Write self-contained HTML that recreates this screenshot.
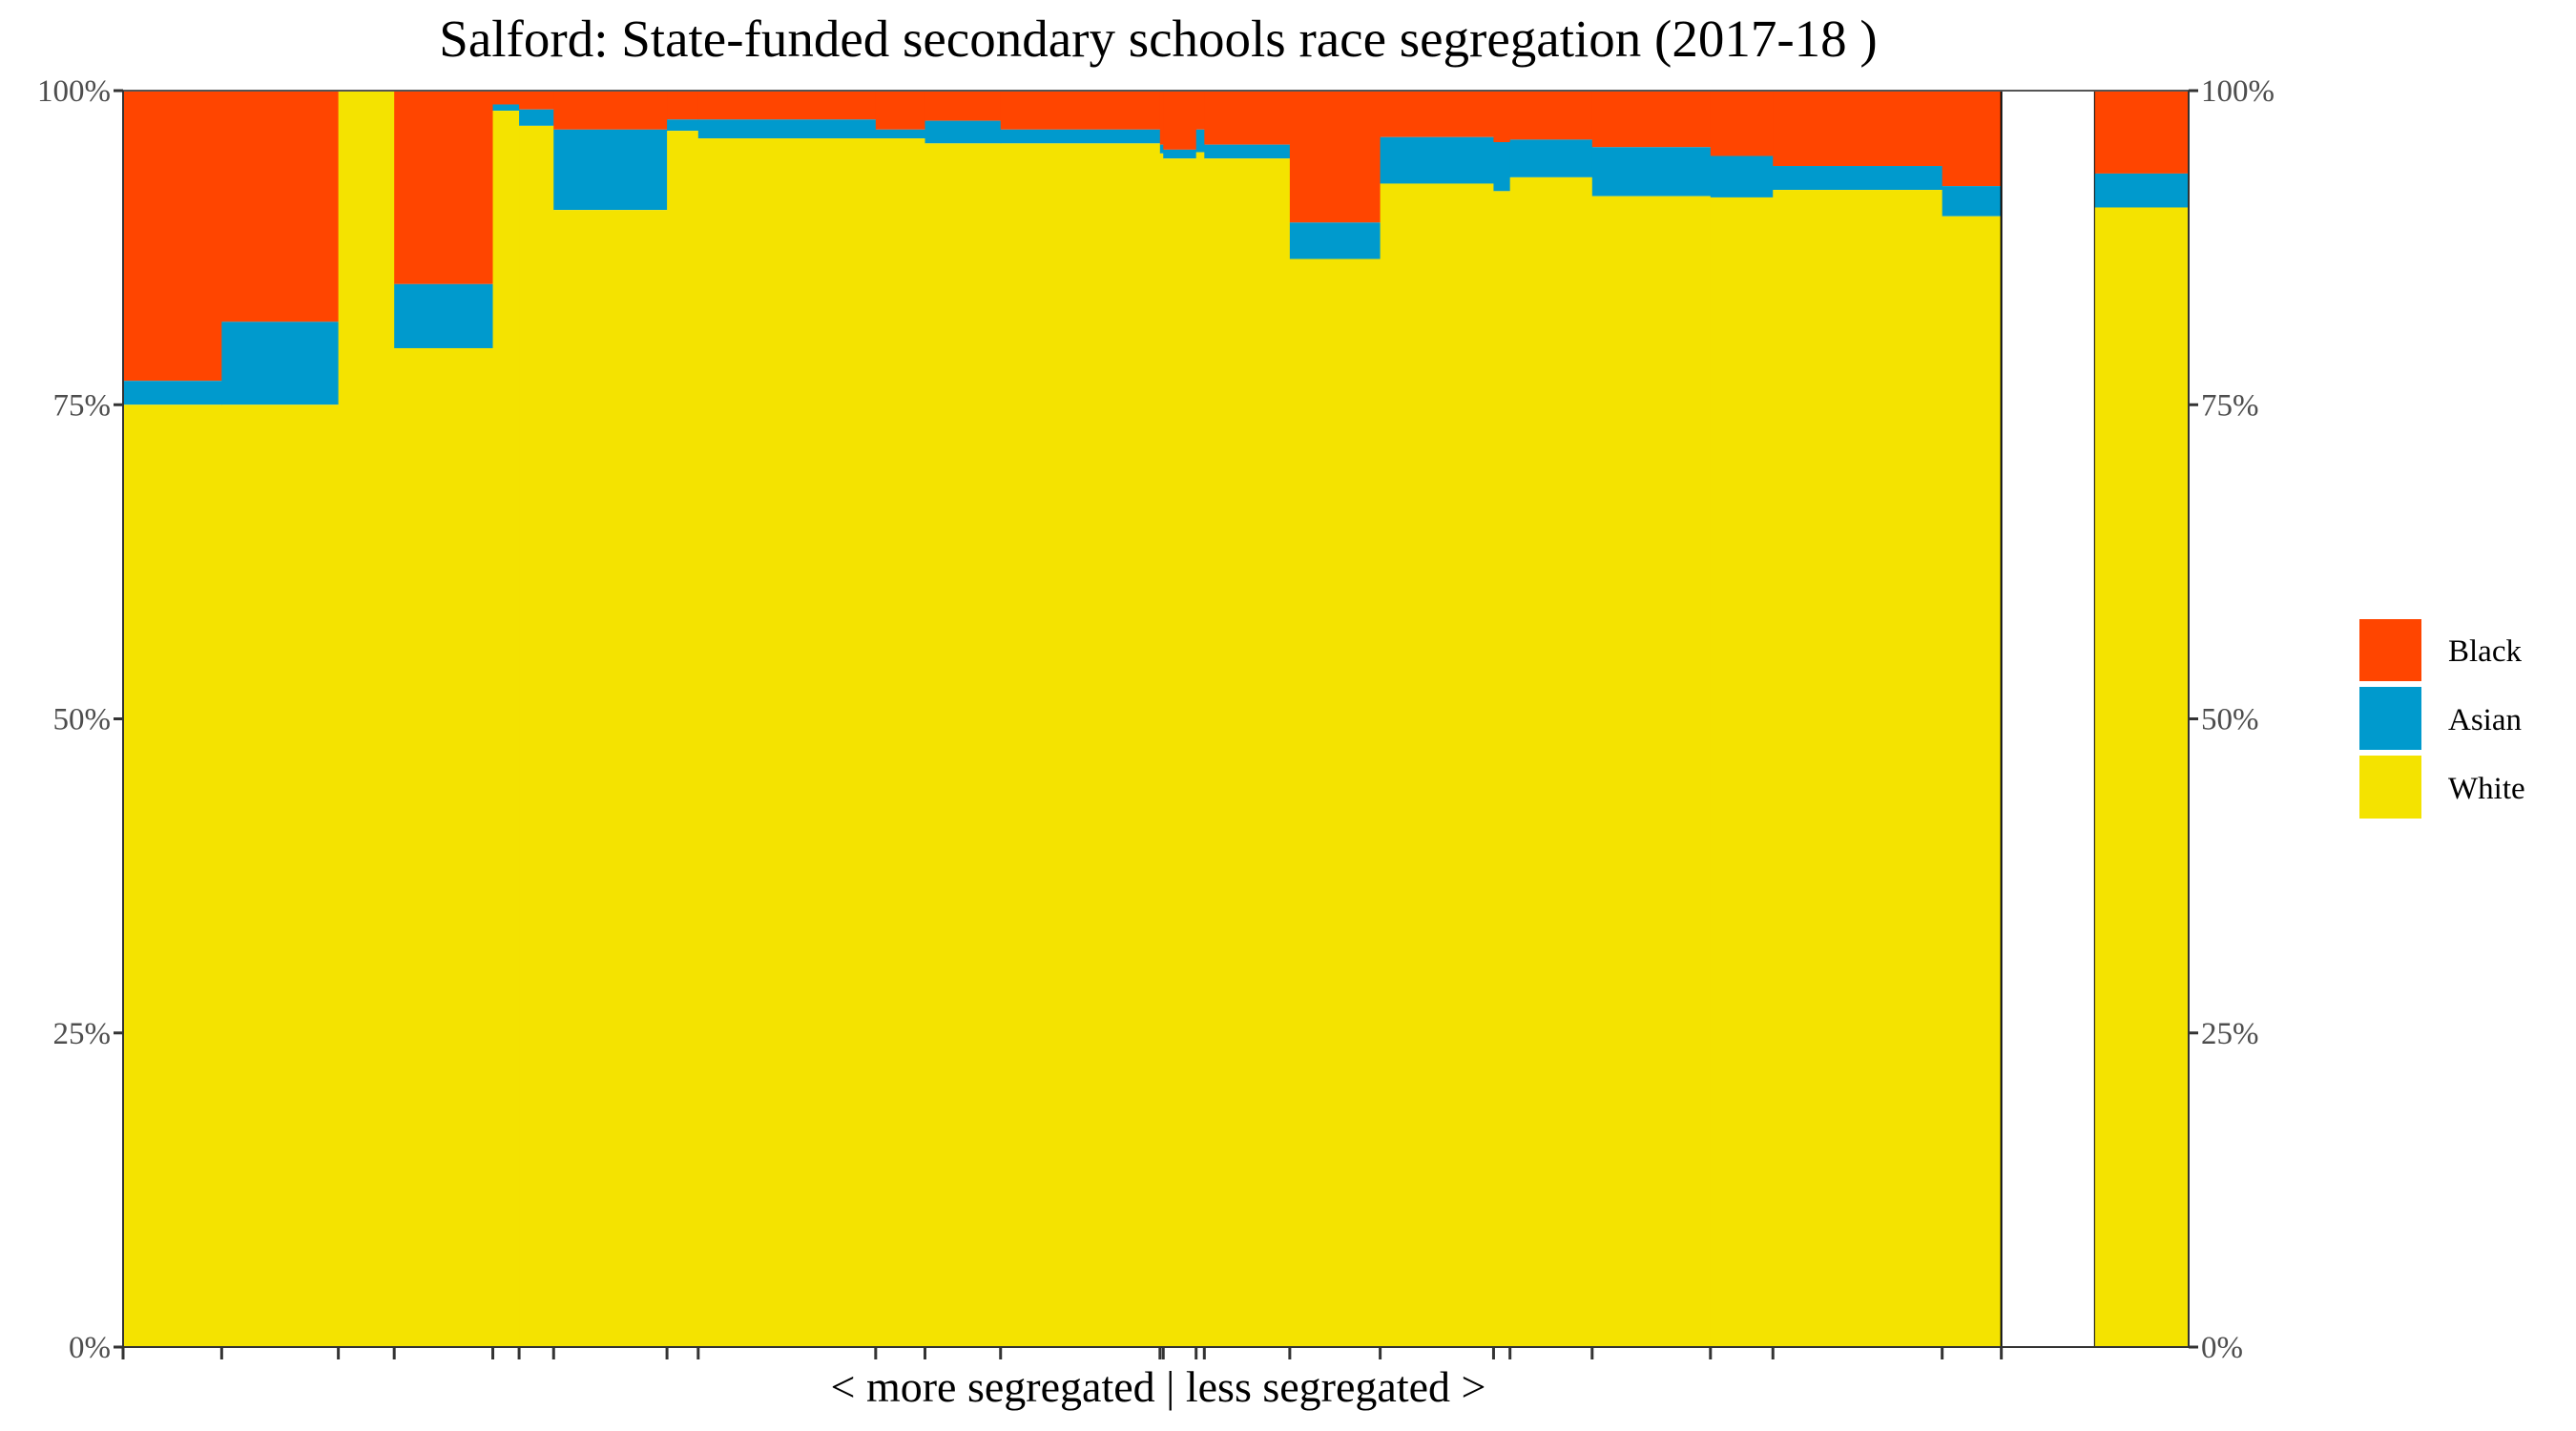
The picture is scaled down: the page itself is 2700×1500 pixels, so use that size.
<!DOCTYPE html>
<html><head><meta charset="utf-8"><style>
html,body{margin:0;padding:0;background:#fff;width:2700px;height:1500px;overflow:hidden}
svg{display:block}
text{font-family:"Liberation Serif",serif}
</style></head><body>
<svg id="chart" width="2700" height="1500">
<text x="1214" y="59" text-anchor="middle" font-size="55" fill="#000">Salford: State-funded secondary schools race segregation (2017-18 )</text>
<g id="bars"></g>
<g id="axes"></g>
<text x="1214" y="1469" text-anchor="middle" font-size="46" fill="#000">&lt; more segregated | less segregated &gt;</text>
<g>
<rect x="2473" y="649" width="65" height="65" fill="#ff4500"/>
<text x="2566" y="693" font-size="33">Black</text>
<rect x="2473" y="720" width="65" height="66" fill="#009acd"/>
<text x="2566" y="765" font-size="33">Asian</text>
<rect x="2473" y="792" width="65" height="66" fill="#f4e300"/>
<text x="2566" y="837" font-size="33">White</text>
</g>
</svg>
<script>
// school sizes (relative widths); null entry = empty gap
const widths = [60,71,34,60,16,21,69,19,108,30,46,97,2,20,5,52,55,69,10,50,72,38,103,36,57,57];
const whitePct = [75.0,75.0,100,79.5,98.4,97.2,90.5,96.8,96.2,96.2,95.8,95.8,95.0,94.6,95.1,94.6,86.6,92.6,92.0,93.1,91.6,91.5,92.1,90.0,null,90.7];
const asianPct = [1.9,6.6,0,5.1,0.5,1.3,6.4,0.9,1.5,0.7,1.8,1.1,0.7,0.7,1.8,1.1,2.9,3.7,3.9,3.0,3.9,3.3,1.9,2.4,null,2.7];
const yTicks = [0,25,50,75,100];
const yTickLabels = ["0%","25%","50%","75%","100%"];

const L=129,R=2294,T=95,B=1412;
const total = widths.reduce((a,b)=>a+b,0);
const xs = v => L + (R-L)*v/total;
const ys = p => B - (B-T)*p/100;
const ns="http://www.w3.org/2000/svg";
const bars=document.getElementById('bars'), axes=document.getElementById('axes');
function mk(tag, attrs, parent){const e=document.createElementNS(ns,tag);for(const k in attrs)e.setAttribute(k,attrs[k]);parent.appendChild(e);return e;}

let cum=0; const edges=[];
widths.forEach((w,i)=>{
  const x0=xs(cum), x1=xs(cum+w); edges.push(cum); cum+=w;
  if(whitePct[i]===null){
    const ln1=mk('line',{x1:x0,x2:x0,y1:T,y2:B,stroke:'#000','stroke-width':2},bars);
    
    
    const ln2=mk('line',{x1:x1,x2:x1,y1:T,y2:B,stroke:'#000','stroke-width':2},bars);
    
    
    return;
  }
  const wp=whitePct[i], ap=asianPct[i];
  const rb=mk('rect',{x:x0,y:T,width:x1-x0+0.5,height:ys(wp+ap)-T,fill:'#ff4500'},bars);
  
  
  const ra=mk('rect',{x:x0,y:ys(wp+ap),width:x1-x0+0.5,height:ys(wp)-ys(wp+ap),fill:'#009acd'},bars);
  
  
  const rw=mk('rect',{x:x0,y:ys(wp),width:x1-x0+0.5,height:B-ys(wp),fill:'#f4e300'},bars);
  
  
});
[[L,T,R,T,'#555'],[L,B,R,B,'#333'],[L,T,L,B,'#333'],[R,T,R,B,'#333']].forEach(a=>{
  const l=mk('line',{x1:a[0],y1:a[1],x2:a[2],y2:a[3],stroke:a[4],'stroke-width':2},axes);
  
  
});
yTicks.forEach((t,i)=>{
  const y=ys(t);
  const tl=mk('line',{x1:L-10,x2:L,y1:y,y2:y,stroke:'#333','stroke-width':3},axes);
  
  
  const tr=mk('line',{x1:R,x2:R+10,y1:y,y2:y,stroke:'#333','stroke-width':3},axes);
  
  
  const lt=mk('text',{x:L-13,y:y+11,'text-anchor':'end','font-size':33,fill:'#4d4d4d'},axes);
  lt.textContent=yTickLabels[i];
  
  
  const rt=mk('text',{x:R+13,y:y+11,'text-anchor':'start','font-size':33,fill:'#4d4d4d'},axes);
  rt.textContent=yTickLabels[i];
  
  
});
edges.slice(0,widths.length-1).forEach(e=>{
  const x=xs(e);
  const t=mk('line',{x1:x,x2:x,y1:B,y2:B+13,stroke:'#333','stroke-width':3},axes);
  
  
});
</script>
</body></html>
